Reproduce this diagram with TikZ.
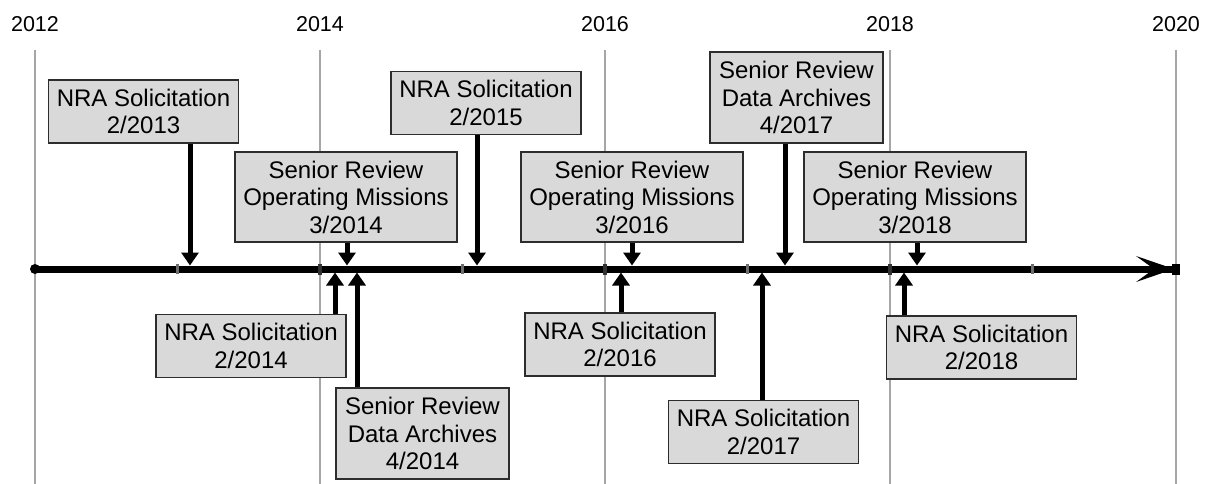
\documentclass[tikz,border=0pt]{standalone}
\usepackage{fontspec}
\setmainfont{Liberation Sans}
\usetikzlibrary{arrows.meta}
\definecolor{boxfill}{RGB}{217,217,217}
\definecolor{gridgray}{RGB}{166,166,166}
\definecolor{boxline}{RGB}{45,45,45}
\definecolor{tickgray}{RGB}{110,110,110}
\tikzset{
  evbox/.style={draw=boxline, line width=1.8pt, fill=boxfill, align=center, inner sep=0pt,
    font=\fontsize{24}{27.5}\selectfont},
  nrabox/.style={evbox, minimum width=190pt, minimum height=63pt},
  ombox/.style={evbox, minimum width=222pt, minimum height=90pt},
  dabox/.style={evbox, minimum width=173pt, minimum height=91pt},
  evarrow/.style={line width=5pt, -{Triangle[length=13pt,width=17pt]}},
  gridline/.style={draw=gridgray, line width=1.6pt},
  yearlabel/.style={font=\fontsize{21.5}{24}\selectfont, inner sep=0pt},
}
\begin{document}
\begin{tikzpicture}[x=1pt,y=-1pt]
\useasboundingbox (0,0) rectangle (1205,484);
\fill[white] (0,0) rectangle (1205,484);

% year labels and grid lines
\foreach \yr/\xx in {2012/35,2014/320,2016/605,2018/890,2020/1176}{
  \node[yearlabel] (y\yr) at (\xx,24) {\yr};
  \draw[gridline] (\xx,50) -- (\xx,484);
}

% axis
\coordinate (axstart) at (35,269);
\coordinate (axend) at (1176,269);
\draw[line width=7pt] (axstart) -- (axend);
\foreach \xx in {177.5,462.5,747.5,1032.5}{
  \fill[tickgray] (\xx-1.5,264) rectangle (\xx+1.5,274);
}
\foreach \xx in {320,605,890}{
  \fill[black!80] (\xx-2,263.5) rectangle (\xx+2,274.5);
}
\fill (axstart) circle (5);
\fill (1172,264) rectangle (1180,275);
\fill (1174,269) -- (1136,256) -- (1154,269) -- (1136,282) -- cycle;

% tip points on the axis
\coordinate (t1) at (190,265.5);
\coordinate (t2) at (347,265.5);
\coordinate (t3) at (477,265.5);
\coordinate (t4) at (632,265.5);
\coordinate (t5) at (785,265.5);
\coordinate (t6) at (917,265.5);
\coordinate (t7) at (335,272.5);
\coordinate (t8) at (357,272.5);
\coordinate (t9) at (621,272.5);
\coordinate (t10) at (762,272.5);
\coordinate (t11) at (904,272.5);

% boxes
\node[nrabox] (b1) at (143.5,111.5) {NRA Solicitation\\2/2013};
\node[ombox] (b2) at (346,197) {Senior Review\\Operating Missions\\3/2014};
\node[nrabox] (b3) at (486,103) {NRA Solicitation\\2/2015};
\node[ombox] (b4) at (632,197) {Senior Review\\Operating Missions\\3/2016};
\node[dabox] (b5) at (796.5,97.5) {Senior Review\\Data Archives\\4/2017};
\node[ombox] (b6) at (915,197) {Senior Review\\Operating Missions\\3/2018};
\node[nrabox] (b7) at (251,346) {NRA Solicitation\\2/2014};
\node[dabox] (b8) at (422.5,433.5) {Senior Review\\Data Archives\\4/2014};
\node[nrabox] (b9) at (620,344.5) {NRA Solicitation\\2/2016};
\node[nrabox] (b10) at (763.5,432) {NRA Solicitation\\2/2017};
\node[nrabox] (b11) at (981.5,347.5) {NRA Solicitation\\2/2018};

% arrows
\draw[evarrow] (b1.south -| t1) -- (t1);
\draw[evarrow] (b2.south -| t2) -- (t2);
\draw[evarrow] (b3.south -| t3) -- (t3);
\draw[evarrow] (b4.south -| t4) -- (t4);
\draw[evarrow] (b5.south -| t5) -- (t5);
\draw[evarrow] (b6.south -| t6) -- (t6);
\draw[evarrow] (b7.north -| t7) -- (t7);
\draw[evarrow] (b8.north -| t8) -- (t8);
\draw[evarrow] (b9.north -| t9) -- (t9);
\draw[evarrow] (b10.north -| t10) -- (t10);
\draw[evarrow] (b11.north -| t11) -- (t11);
\end{tikzpicture}
\end{document}
